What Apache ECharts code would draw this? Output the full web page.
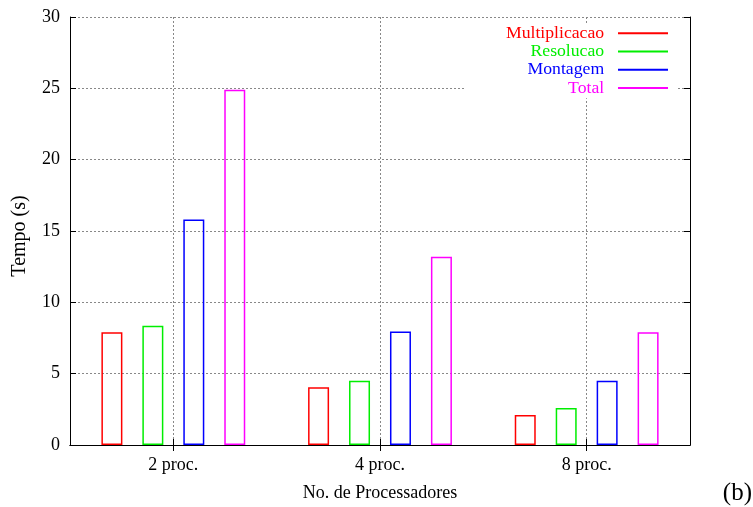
<!DOCTYPE html>
<html>
<head>
<meta charset="utf-8">
<script src="https://cdn.jsdelivr.net/npm/echarts@6/dist/echarts.min.js"></script>
<style>html,body{margin:0;padding:0;background:#fff;}#c{width:753px;height:507px;}</style>
</head>
<body>
<div id="c"></div>
<script>
const categories = ['2 proc.', '4 proc.', '8 proc.'];
const seriesNames = ['Multiplicacao', 'Resolucao', 'Montagem', 'Total'];
const multiplicacao = [7.9, 4.05, 2.1];
const resolucao = [8.35, 4.5, 2.6];
const montagem = [15.8, 7.95, 4.5];
const total = [24.9, 13.2, 7.9];
const yTicks = [0, 5, 10, 15, 20, 25, 30];
const colors = ['#ff0000', '#00ee00', '#0000ff', '#ff00ff'];
const values = [multiplicacao, resolucao, montagem, total];

const FONT = '"Liberation Serif", "DejaVu Serif", serif';
const chart = echarts.init(document.getElementById('c'), null, {renderer: 'canvas'});

// top helper axis: category centers at odd indexes
const topData = ['', categories[0], '', categories[1], '', categories[2], ''];
const oddOnly = function (i) { return i % 2 === 1; };

const option = {
  animation: false,
  backgroundColor: '#ffffff',
  textStyle: {fontFamily: FONT},
  grid: {left: 70, right: 63, top: 17, bottom: 62, containLabel: false},
  legend: {
    orient: 'vertical',
    right: 75,
    top: 23,
    align: 'right',
    selectedMode: false,
    backgroundColor: '#ffffff',
    padding: [1, 10, 1, 40],
    itemGap: 0,
    itemWidth: 50,
    itemHeight: 2,
    icon: 'rect',
    formatter: function (n) { return n + '  '; },
    textStyle: {fontFamily: FONT, fontSize: 17.7, lineHeight: 18.3},
    data: seriesNames.map(function (n, i) {
      return {name: n, itemStyle: {color: colors[i], borderWidth: 0}, textStyle: {color: colors[i]}};
    })
  },
  xAxis: [
    {
      type: 'category',
      data: categories,
      position: 'bottom',
      axisLine: {show: true, lineStyle: {color: '#000', width: 1}},
      axisTick: {show: true, inside: true, alignWithLabel: true, length: 6, lineStyle: {color: '#000'}},
      axisLabel: {color: '#000', fontSize: 18, fontFamily: FONT, margin: 11},
      splitLine: {show: false},
      name: 'No. de Processadores',
      nameLocation: 'middle',
      nameGap: 39,
      nameTextStyle: {color: '#000', fontSize: 18, fontFamily: FONT}
    },
    {
      type: 'category',
      data: topData,
      boundaryGap: false,
      position: 'top',
      axisLine: {show: true, lineStyle: {color: '#000', width: 1}},
      axisTick: {show: true, inside: true, length: 6, interval: oddOnly, lineStyle: {color: '#000'}},
      axisLabel: {show: false},
      splitLine: {show: true, interval: oddOnly, lineStyle: {color: '#888', type: [2, 2], width: 1}}
    }
  ],
  yAxis: [
    {
      type: 'value',
      min: yTicks[0],
      max: yTicks[yTicks.length - 1],
      interval: 5,
      position: 'left',
      axisLine: {show: true, lineStyle: {color: '#000', width: 1}},
      axisTick: {show: true, inside: true, length: 6, lineStyle: {color: '#000'}},
      axisLabel: {color: '#000', fontSize: 18, fontFamily: FONT, margin: 10},
      splitLine: {show: true, lineStyle: {color: '#888', type: [2, 2], width: 1}}
    },
    {
      type: 'value',
      min: yTicks[0],
      max: yTicks[yTicks.length - 1],
      interval: 5,
      position: 'right',
      axisLine: {show: true, lineStyle: {color: '#000', width: 1}},
      axisTick: {show: true, inside: true, length: 6, lineStyle: {color: '#000'}},
      axisLabel: {show: false},
      splitLine: {show: false}
    }
  ],
  series: seriesNames.map(function (n, i) {
    return {
      name: n,
      type: 'bar',
      xAxisIndex: 0,
      yAxisIndex: 0,
      data: values[i],
      barWidth: 21,
      barGap: '95%',
      itemStyle: {color: 'rgba(255,255,255,0)', borderColor: colors[i], borderWidth: 1.5},
      emphasis: {disabled: true}
    };
  }),
  graphic: [
    {
      type: 'text',
      x: 20,
      y: 236,
      rotation: Math.PI / 2,
      style: {text: 'Tempo (s)', font: '20px ' + FONT, fill: '#000', align: 'center', verticalAlign: 'middle'}
    },
    {
      type: 'text',
      right: 1,
      top: 481,
      style: {text: '(b)', font: '25px ' + FONT, fill: '#000'}
    }
  ]
};
chart.setOption(option);
</script>
</body>
</html>
